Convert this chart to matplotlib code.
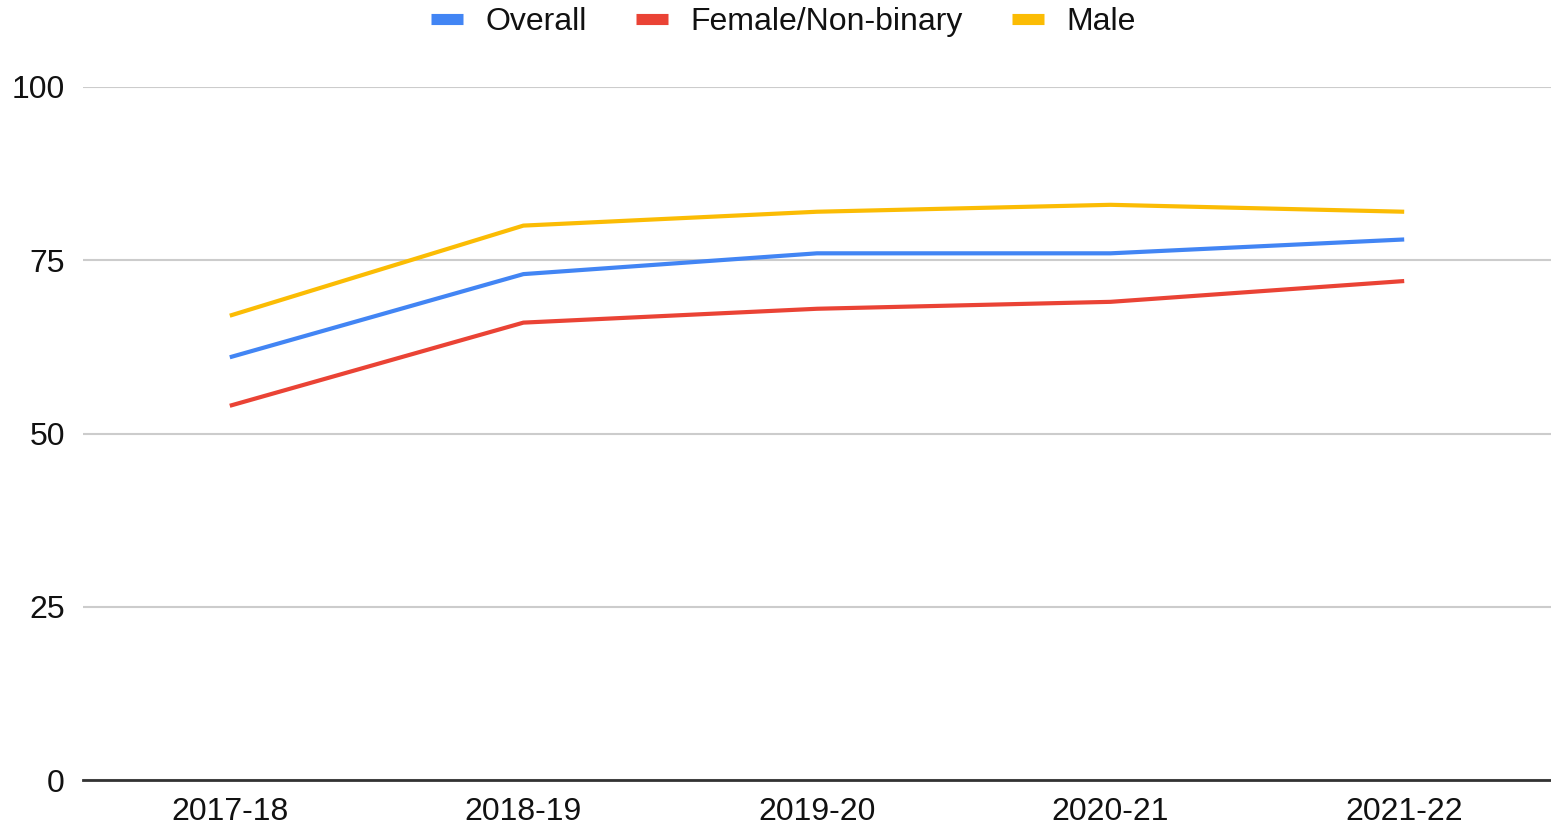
import matplotlib
matplotlib.use('Agg')
import matplotlib.pyplot as plt
import numpy as np

plt.rcParams['font.family'] = ['Liberation Sans', 'DejaVu Sans']

years = ['2017-18', '2018-19', '2019-20', '2020-21', '2021-22']
overall = [61, 73, 76, 76, 78]
female_nb = [54, 66, 68, 69, 72]
male = [67, 80, 82, 83, 82]
yticks = [0, 25, 50, 75, 100]

series = [
    ('Overall', overall, '#4285F4'),
    ('Female/Non-binary', female_nb, '#EA4335'),
    ('Male', male, '#FBBC04'),
]

fig = plt.figure(figsize=(15.51, 8.32), dpi=100)
ax = fig.add_axes([83 / 1551, 1 - 780 / 832, 1 - 83 / 1551, (780 - 87) / 832])

x = np.arange(len(years)) + 0.5
for name, vals, col in series:
    ax.plot(x, vals, color=col, lw=3, label=name, solid_capstyle='butt')

ax.set_xlim(0, len(years))
ax.set_ylim(0, 100)
ax.set_yticks(yticks)
ax.set_xticks(x)
ax.set_xticklabels(years)
ax.grid(axis='y', color='#cccccc', lw=1.5)
ax.set_axisbelow(True)
for s in ['top', 'right', 'left']:
    ax.spines[s].set_visible(False)
ax.spines['bottom'].set_color('#333333')
ax.spines['bottom'].set_linewidth(2)
ax.spines['bottom'].set_zorder(3)
ax.tick_params(axis='both', length=0, labelsize=23, colors='#111111')
ax.tick_params(axis='y', pad=13)
ax.tick_params(axis='x', pad=12)

handles = [plt.Line2D([], [], color=c, lw=8, solid_capstyle='butt') for _, _, c in series]
fig.legend(handles, [n for n, _, _ in series], loc='center', bbox_to_anchor=(0.505, 0.973),
           ncol=3, frameon=False, fontsize=23, handlelength=1.0, handletextpad=0.7,
           columnspacing=1.55, labelcolor='#111111')

plt.savefig('out.png', dpi=100)
plt.close()
